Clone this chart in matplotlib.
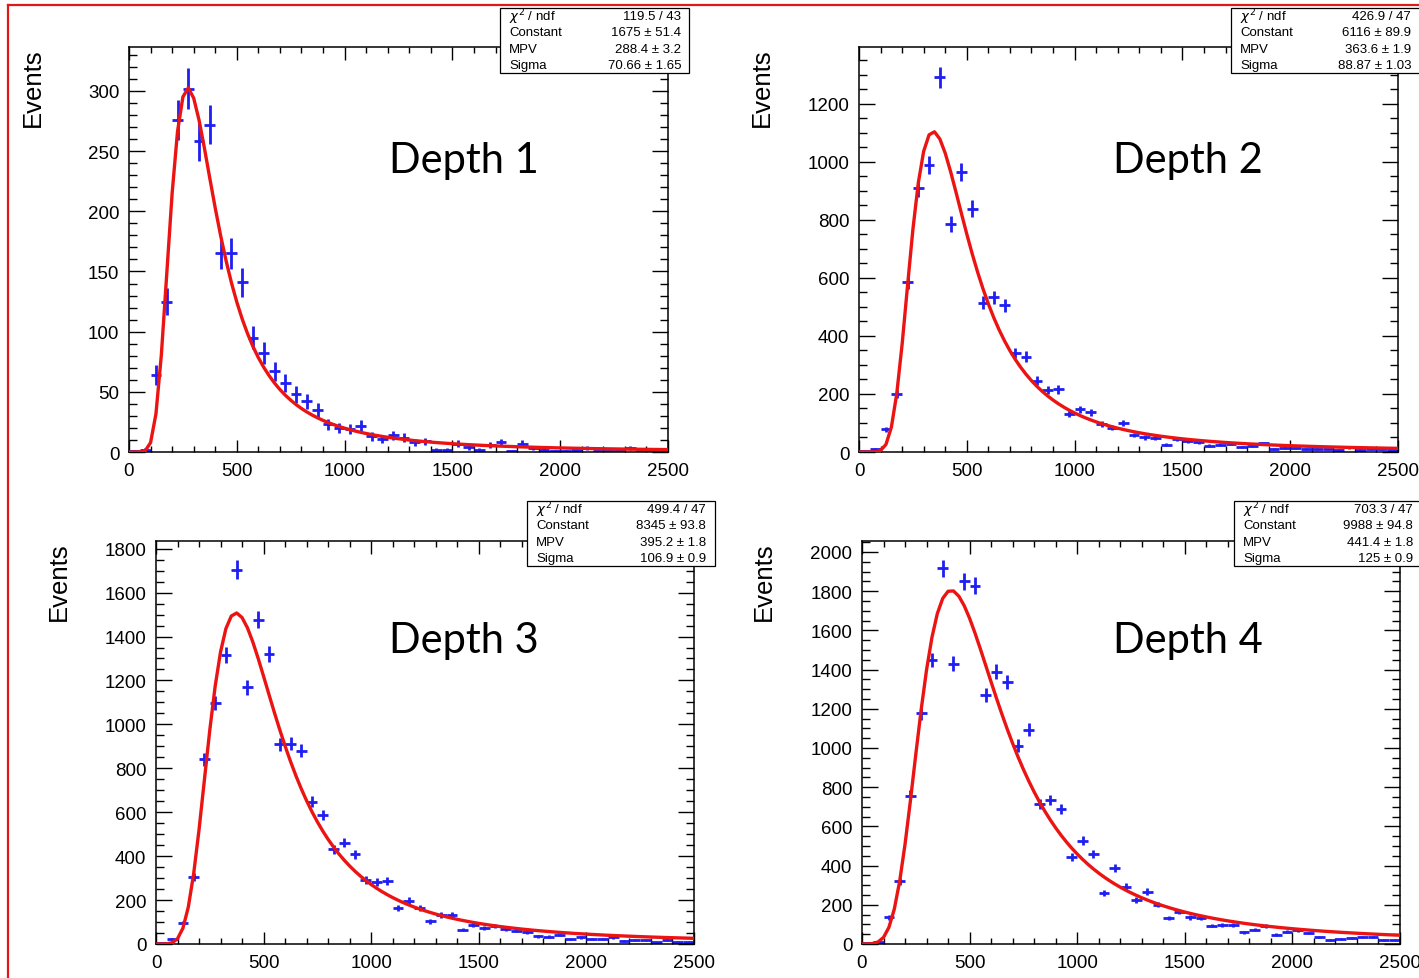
"""
Landau fits of the energy deposit per depth, four panels in ROOT style.
"""

import numpy as np
import matplotlib

matplotlib.use("Agg")
import matplotlib.pyplot as plt
from matplotlib.lines import Line2D
from matplotlib.patches import Rectangle
from matplotlib.ticker import MultipleLocator

W, H = 1419, 979

# 50 bins of width 50 between 0 and 2500
bin_edges = np.arange(0, 2501, 50)

depth1 = [1, 2, 64, 125, 276, 302, 258, 272, 165, 165,
          141, 95, 82, 67, 57, 48, 42, 35, 23, 20,
          19, 22, 13, 11, 14, 12, 8, 9, 2, 2,
          7, 4, 2, 6, 8, 1, 7, 3, 2, 1,
          1, 2, 3, 1, 1, 2, 3, 1, 1, 1]
depth2 = [5, 10, 79, 200, 585, 909, 990, 1292, 786, 964,
          838, 514, 533, 505, 341, 329, 246, 214, 216, 131,
          148, 137, 96, 84, 99, 59, 50, 48, 25, 45,
          37, 33, 22, 25, 29, 18, 22, 30, 10, 13,
          13, 10, 10, 9, 7, 16, 7, 9, 9, 7]
depth3 = [5, 23, 95, 306, 841, 1098, 1318, 1705, 1170, 1477,
          1321, 909, 912, 879, 648, 588, 432, 462, 409, 292,
          283, 286, 163, 198, 165, 103, 132, 132, 65, 88,
          73, 80, 68, 61, 53, 35, 33, 41, 23, 30,
          23, 23, 30, 14, 20, 16, 8, 20, 11, 11]
depth4 = [5, 12, 136, 320, 757, 1179, 1449, 1917, 1429, 1850,
          1828, 1272, 1389, 1335, 1012, 1092, 714, 735, 689, 442,
          527, 459, 260, 386, 292, 224, 267, 201, 133, 165,
          136, 133, 94, 99, 97, 60, 73, 90, 48, 63,
          71, 56, 36, 22, 26, 32, 34, 37, 22, 22]

# fit results (Constant, MPV, Sigma) and stat box strings
fit_const = [1675, 6116, 8345, 9988]
fit_mpv = [288.4, 363.6, 395.2, 441.4]
fit_sigma = [70.66, 88.87, 106.9, 125]
chi2_ndf = ["119.5 / 43", "426.9 / 47", "499.4 / 47", "703.3 / 47"]
const_txt = ["1675 ± 51.4", "6116 ± 89.9", "8345 ± 93.8", "9988 ± 94.8"]
mpv_txt = ["288.4 ± 3.2", "363.6 ± 1.9", "395.2 ± 1.8", "441.4 ± 1.8"]
sigma_txt = ["70.66 ± 1.65", "88.87 ± 1.03", "106.9 ± 0.9", "125 ± 0.9"]

titles = ["Depth 1", "Depth 2", "Depth 3", "Depth 4"]
y_max = [336.5, 1396, 1835, 2056]
y_major = [50, 200, 200, 200]
y_minor = [10, 50, 50, 50]

BLUE = "#1f1ff2"
RED = "#ec1313"


def landau_density(lam):
    """Landau density via the vertical contour through the saddle point."""
    lam = np.atleast_1d(lam)
    out = np.zeros_like(lam, dtype=float)
    y = np.linspace(0.0, 60.0, 30001)
    for i, l in enumerate(lam):
        c = np.clip(np.exp(-1.0 - l), 1e-3, 100.0)
        s = c + 1j * y
        f = np.exp(s * np.log(s) + l * s).real
        out[i] = np.trapezoid(f, y) / np.pi
    return out


def px(x, y):
    return x / W, 1 - y / H


fig = plt.figure(figsize=(W / 100, H / 100), dpi=100)

# axes boxes in pixels: left, top, right, bottom
boxes = [(129, 48, 668, 453), (859, 48, 1398, 453),
         (156, 542, 694, 945), (862, 542, 1400, 945)]
events_pos = [(33, 48), (762, 48), (59, 542), (764, 542)]
title_pos = [(389, 173), (1113, 173), (389, 653), (1113, 653)]
# stat box: left, top, right, bottom, text left, text right
stat_boxes = [(500, 9, 689, 74, 509, 681), (1231, 9, 1425, 74, 1240, 1411),
              (527, 502, 715, 567, 536, 706), (1234, 502, 1425, 567, 1243, 1413)]

centers = 0.5 * (bin_edges[:-1] + bin_edges[1:])
x_fit = np.linspace(0, 2500, 101)

for k, counts in enumerate([depth1, depth2, depth3, depth4]):
    l, t, r, b = boxes[k]
    x0, y0 = px(l, b)
    ax = fig.add_axes([x0, y0, (r - l) / W, (b - t) / H])
    counts = np.array(counts, dtype=float)

    ax.errorbar(centers, counts, xerr=25, yerr=np.sqrt(counts), fmt="none",
                ecolor=BLUE, elinewidth=2.0, capsize=0, zorder=2)
    y_fit = fit_const[k] * landau_density((x_fit - fit_mpv[k]) / fit_sigma[k])
    ax.plot(x_fit, y_fit, color=RED, linewidth=2.4, zorder=3)

    ax.set_xlim(0, 2500)
    ax.set_ylim(0, y_max[k])
    ax.xaxis.set_major_locator(MultipleLocator(500))
    ax.xaxis.set_minor_locator(MultipleLocator(100))
    ax.yaxis.set_major_locator(MultipleLocator(y_major[k]))
    ax.yaxis.set_minor_locator(MultipleLocator(y_minor[k]))
    ax.tick_params(axis="both", which="both", direction="in", top=True,
                   right=True, width=1.0, colors="black")
    ax.tick_params(axis="x", which="major", length=9, pad=7)
    ax.tick_params(axis="x", which="minor", length=4.5)
    ax.tick_params(axis="y", which="major", length=11.5, pad=7)
    ax.tick_params(axis="y", which="minor", length=5.8)
    for lbl in ax.get_xticklabels() + ax.get_yticklabels():
        lbl.set_fontfamily("Liberation Sans")
        lbl.set_fontsize(13.5)
    for sp in ax.spines.values():
        sp.set_linewidth(1.1)

    ex, ey = px(*events_pos[k])
    fig.text(ex, ey, "Events", rotation=90, ha="center", va="top",
             fontsize=18.5, family="Liberation Sans")

    tx, ty = px(*title_pos[k])
    fig.text(tx, ty, titles[k], ha="left", va="baseline", fontsize=30,
             family="Lato")

    sl, st, sr, sb, tl, tr = stat_boxes[k]
    bx, by = px(sl, sb)
    fig.patches.append(Rectangle((bx, by), (sr - sl) / W, (sb - st) / H,
                                 transform=fig.transFigure, facecolor="white",
                                 edgecolor="black", linewidth=0.9, zorder=5))
    rows = [(r"$\chi^{2}$ / ndf", chi2_ndf[k]), ("Constant", const_txt[k]),
            ("MPV", mpv_txt[k]), ("Sigma", sigma_txt[k])]
    step = (sb - st) / 4.0
    for j, (name, val) in enumerate(rows):
        yy = st + step * (j + 0.5)
        fig.text(*px(tl, yy), name, ha="left", va="center", fontsize=9.5,
                 family="Liberation Sans", zorder=6)
        fig.text(*px(tr, yy), val, ha="right", va="center", fontsize=9.5,
                 family="Liberation Sans", zorder=6)

# red frame of the original canvas (top and left edges)
fig.lines.append(Line2D([8 / W, 1], [1 - 6 / H, 1 - 6 / H],
                        transform=fig.transFigure, color="#e01818", linewidth=1.6))
fig.lines.append(Line2D([8 / W, 8 / W], [0, 1 - 6 / H],
                        transform=fig.transFigure, color="#e01818", linewidth=1.6))

fig.savefig("out.png", dpi=100)
